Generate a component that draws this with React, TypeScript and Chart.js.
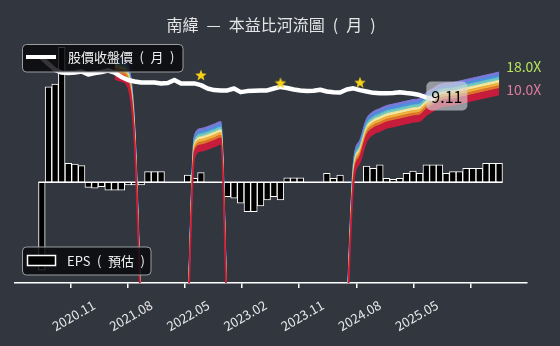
import React, { useEffect, useRef } from 'react';
import { Chart, registerables } from 'chart.js';

Chart.register(...registerables);

const FONT = '"Noto Sans CJK TC", "Noto Sans", sans-serif';
const BG = '#31363f';

const titleText = '南緯\u2002—\u2002本益比河流圖\u2002(\u2002月\u2002)';
const priceLegendText = '股價收盤價\u2002(\u2002月\u2002)';
const epsLegendText = 'EPS\u2002(\u2002預估\u2002)';

// x positions are month indices (0 .. 69)
const tickPositions = [0, 8.625, 17.25, 25.875, 34.5, 43.125, 51.75, 60.375, 69];
const tickLabels = ['', '2020.11', '2021.08', '2022.05', '2023.02', '2023.11', '2024.08', '2025.05', ''];

// monthly close price (m = 0 .. 59)
const priceClose = [
  26.6, 22.8, 19.5, 18.2, 18.0, 18.2, 18.7, 17.3, 18.0, 18.5,
  19.2, 18.2, 16.2, 15.0, 14.4, 14.0, 14.0, 14.0, 13.7, 13.85,
  15.0, 13.7, 13.7, 13.7, 13.1, 12.0, 11.5, 11.4, 11.4, 12.0,
  10.9, 11.2, 11.3, 11.4, 11.4, 12.0, 12.5, 12.15, 11.7, 11.4,
  11.2, 11.3, 11.6, 11.1, 10.9, 10.8, 11.7, 12.05, 11.5, 11.1,
  10.7, 10.6, 10.6, 10.65, 10.9, 10.65, 10.45, 10.1, 9.5, 9.11,
];
const lastPriceLabel = '9.11';

// monthly EPS incl. forecast (m = 0 .. 69)
const epsMonthly = [
  -0.485, 0.528, 0.543, 0.746, 0.105, 0.101, 0.092, -0.028, -0.033, -0.024,
  -0.043, -0.043, -0.043, -0.015, -0.015, -0.015, 0.059, 0.059, 0.059, 0,
  0, 0, 0.040, 0.022, 0.053, 0, 0, 0, -0.080, -0.088,
  -0.116, -0.162, -0.162, -0.131, -0.098, -0.080, -0.098, 0.025, 0.025, 0.025,
  0, 0, 0, 0.050, 0.022, 0.040, 0, 0, 0, 0.090,
  0.077, 0.096, 0.022, 0.017, 0.022, 0.050, 0.062, 0.050, 0.096, 0.096,
  0.096, 0.050, 0.059, 0.059, 0.077, 0.077, 0.077, 0.105, 0.105, 0.105,
];

// trailing EPS base of the PE river (null = negative, not drawn)
const ttmEps = [
  null, null, null, null, null, null, null, null, null, null,
  null, 1.538, 1.459, 1.247, 0.2734, 0.002, null, null, null, null,
  null, null, 0.002, 0.1946, 0.2337, 0.2462, 0.2628, 0.2807, 0.002, null,
  null, null, null, null, null, null, null, null, null, null,
  null, null, null, null, null, null, 0.002, 0.096, 0.1752, 0.3035,
  0.3646, 0.3944, 0.4265, 0.4437, 0.4613, 0.4798, 0.499, 0.5122, 0.5993, 0.6655,
  0.7389, 0.7685, 0.7786, 0.8098, 0.8422, 0.8759, 0.911, 0.9474, 0.9854, 1.0249,
];

const peMultiples = [10, 11.7, 12.6, 13.5, 14.5, 15.6, 16.8, 18];
const bandColors = ['#c81c3c', '#e0742a', '#f0b23c', '#f2e6a0', '#6cc8c0', '#4f8fe0', '#7c78d8'];
const topLabelColor = '#b5e35a';
const bottomLabelColor = '#e07ba0';

const starMonths = [24, 36, 48];
const starValues = [17.1, 13.95, 14.1];

// axis ranges
const xMin = -4.05;
const xMax = 73.2;
const priceMin = 0.0739;
const priceMax = 42.66;
const epsMin = -0.5564;
const epsMax = 0.7862;

function makeStar(size: number, color: string) {
  const c = document.createElement('canvas');
  c.width = size;
  c.height = size;
  const g = c.getContext('2d')!;
  const cx = size / 2;
  const cy = size / 2 + size * 0.05;
  const R = size / 2;
  const r = R * 0.42;
  g.beginPath();
  for (let i = 0; i < 10; i++) {
    const a = -Math.PI / 2 + (i * Math.PI) / 5;
    const rad = i % 2 === 0 ? R : r;
    g.lineTo(cx + rad * Math.cos(a), cy + rad * Math.sin(a));
  }
  g.closePath();
  g.fillStyle = color;
  g.fill();
  return c;
}

function roundRect(ctx: CanvasRenderingContext2D, x: number, y: number, w: number, h: number, r: number) {
  ctx.beginPath();
  ctx.moveTo(x + r, y);
  ctx.lineTo(x + w - r, y);
  ctx.arcTo(x + w, y, x + w, y + r, r);
  ctx.lineTo(x + w, y + h - r);
  ctx.arcTo(x + w, y + h, x + w - r, y + h, r);
  ctx.lineTo(x + r, y + h);
  ctx.arcTo(x, y + h, x, y + h - r, r);
  ctx.lineTo(x, y + r);
  ctx.arcTo(x, y, x + r, y, r);
  ctx.closePath();
}

const overlayPlugin = {
  id: 'overlay',
  beforeDraw(chart: any) {
    const { ctx, width, height } = chart;
    ctx.save();
    ctx.fillStyle = BG;
    ctx.fillRect(0, 0, width, height);
    ctx.restore();
  },
  afterDraw(chart: any) {
    const { ctx, chartArea, scales } = chart;
    const xs = scales.x;
    const yp = scales.yP;
    ctx.save();

    // title
    ctx.font = `16px ${FONT}`;
    ctx.fillStyle = '#e6e6e6';
    ctx.textAlign = 'center';
    ctx.textBaseline = 'middle';
    ctx.fillText(titleText, (chartArea.left + chartArea.right) / 2, 25);

    // river end labels
    const lastIdx = ttmEps.length - 1;
    const lastE = ttmEps[lastIdx] as number;
    const lx = xs.getPixelForValue(lastIdx) + 7;
    ctx.font = `14px ${FONT}`;
    ctx.textAlign = 'left';
    const topMult = peMultiples[peMultiples.length - 1];
    const botMult = peMultiples[0];
    ctx.fillStyle = topLabelColor;
    ctx.fillText(`${topMult.toFixed(1)}X`, lx, yp.getPixelForValue(lastE * topMult) - 5);
    ctx.fillStyle = bottomLabelColor;
    ctx.fillText(`${botMult.toFixed(1)}X`, lx, yp.getPixelForValue(lastE * botMult) - 5);

    // last price label
    const pi = priceClose.length - 1;
    const px = xs.getPixelForValue(pi) + 14;
    const py = yp.getPixelForValue(priceClose[pi]) - 3;
    roundRect(ctx, px - 20.5, py - 14.5, 41, 29, 5);
    ctx.fillStyle = 'rgba(215,215,220,0.62)';
    ctx.fill();
    ctx.font = `16px ${FONT}`;
    ctx.fillStyle = '#000000';
    ctx.textAlign = 'center';
    ctx.fillText(lastPriceLabel, px, py + 1);

    // legend 1 (price)
    roundRect(ctx, 22.5, 44.5, 160.5, 27.5, 4);
    ctx.fillStyle = 'rgba(8,9,11,0.82)';
    ctx.fill();
    ctx.strokeStyle = '#9a9da3';
    ctx.lineWidth = 1;
    ctx.stroke();
    ctx.beginPath();
    ctx.moveTo(26, 57);
    ctx.lineTo(56, 57);
    ctx.strokeStyle = '#ffffff';
    ctx.lineWidth = 4;
    ctx.stroke();
    ctx.font = `13px ${FONT}`;
    ctx.fillStyle = '#f0f0f0';
    ctx.textAlign = 'left';
    ctx.fillText(priceLegendText, 68, 57.5);

    // legend 2 (eps)
    roundRect(ctx, 22.5, 247, 128.5, 28, 4);
    ctx.fillStyle = 'rgba(8,9,11,0.82)';
    ctx.fill();
    ctx.strokeStyle = '#9a9da3';
    ctx.lineWidth = 1;
    ctx.stroke();
    ctx.fillStyle = '#000000';
    ctx.fillRect(27.5, 255.5, 28, 10);
    ctx.strokeStyle = '#ffffff';
    ctx.lineWidth = 1.5;
    ctx.strokeRect(27.5, 255.5, 28, 10);
    ctx.fillStyle = '#f0f0f0';
    ctx.fillText(epsLegendText, 67, 261);

    ctx.restore();
  },
};

export default function App() {
  const ref = useRef<HTMLCanvasElement | null>(null);

  useEffect(() => {
    const canvas = ref.current;
    if (!canvas) return;
    const star = makeStar(12, '#f7d116');

    const bandDatasets = peMultiples.map((mult, k) => ({
      type: 'line' as const,
      yAxisID: 'yP',
      data: ttmEps.map((e, i) => ({ x: i, y: e == null ? null : e * mult })),
      borderColor: k === 0 ? bandColors[0] : bandColors[k - 1],
      borderWidth: k === 0 ? 1.6 : 1,
      backgroundColor: k === 0 ? 'rgba(0,0,0,0)' : bandColors[k - 1],
      fill: k === 0 ? false : '-1',
      pointRadius: 0,
      cubicInterpolationMode: 'monotone' as const,
      spanGaps: false,
      order: 5,
    }));

    const chart = new Chart(canvas, {
      type: 'line',
      data: {
        datasets: [
          ...bandDatasets,
          {
            type: 'bar',
            yAxisID: 'yE',
            data: epsMonthly.map((v, i) => ({ x: i, y: v })),
            backgroundColor: '#000000',
            borderColor: '#ffffff',
            borderWidth: 1,
            borderSkipped: false,
            barPercentage: 1,
            categoryPercentage: 1,
            order: 10,
          } as any,
          {
            type: 'line',
            yAxisID: 'yE',
            data: [
              { x: -0.5, y: 0 },
              { x: epsMonthly.length - 0.5, y: 0 },
            ],
            borderColor: '#ffffff',
            borderWidth: 1.5,
            pointRadius: 0,
            order: 9,
          },
          {
            type: 'line',
            yAxisID: 'yP',
            data: priceClose.map((v, i) => ({ x: i, y: v })),
            borderColor: '#ffffff',
            borderWidth: 4.5,
            borderJoinStyle: 'round',
            borderCapStyle: 'round',
            pointRadius: 0,
            tension: 0,
            order: 1,
          },
          {
            type: 'line',
            yAxisID: 'yP',
            data: starMonths.map((m, i) => ({ x: m, y: starValues[i] })),
            showLine: false,
            pointStyle: star,
            pointRadius: 6,
            order: 0,
          } as any,
        ],
      },
      options: {
        responsive: false,
        animation: false,
        devicePixelRatio: 1,
        events: [],
        layout: { padding: { left: 15, right: 33, top: 40, bottom: 0 } },
        plugins: {
          legend: { display: false },
          title: { display: false },
          tooltip: { enabled: false },
        },
        scales: {
          x: {
            type: 'linear',
            min: xMin,
            max: xMax,
            offset: false,
            afterBuildTicks: (axis: any) => {
              axis.ticks = tickPositions.map((v) => ({ value: v }));
            },
            afterFit: (s: any) => {
              s.height = 63;
            },
            ticks: {
              autoSkip: false,
              minRotation: 30,
              maxRotation: 30,
              color: '#e8e8e8',
              font: { family: FONT, size: 13 },
              padding: 9,
              labelOffset: -5,
              callback: (_v: any, i: number) => tickLabels[i] ?? '',
            },
            grid: {
              display: true,
              drawOnChartArea: false,
              drawTicks: true,
              tickLength: 5,
              color: '#ffffff',
              lineWidth: 1.5,
            },
            border: { display: true, color: '#ffffff', width: 1.5 },
          },
          yP: {
            type: 'logarithmic',
            display: false,
            min: priceMin,
            max: priceMax,
          },
          yE: {
            type: 'linear',
            display: false,
            min: epsMin,
            max: epsMax,
          },
        },
      } as any,
      plugins: [overlayPlugin],
    });

    return () => chart.destroy();
  }, []);

  return (
    <div style={{ position: 'fixed', left: 0, top: 0, width: 560, height: 346, background: BG }}>
      <canvas ref={ref} width={560} height={346} style={{ display: 'block', width: 560, height: 346 }} />
    </div>
  );
}
